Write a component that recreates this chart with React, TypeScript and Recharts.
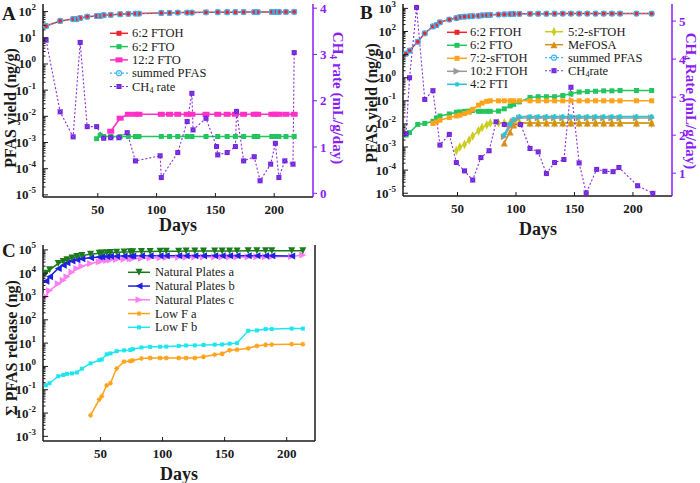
import React from "react";
import { ComposedChart, Line, XAxis, YAxis } from "recharts";

const FONT = '"Liberation Serif", "Times New Roman", Times, serif';
const INK = "#1a1a1a";
const PURPLE = "#8a1cf5";

// ---- panel A: day sampling and yields (ng/g)
const A_DAYS = [6, 18, 29, 32, 35, 41, 49, 52, 55, 61, 69, 76, 82, 85, 104, 111, 118, 126, 130, 142, 152, 160, 167, 174, 183, 186, 198, 201, 204, 210, 217];
const A_FTOH62 = [28, 44, 52, 52, 57, 64, 68, 68, 73, 75, 80, 82, 84, 84, 89, 89, 92, 92, 92, 94, 95, 95, 95, 96, 96, 96, 97, 97, 97, 97, 98];
const A_FTO62 = [null, null, null, null, null, null, 1.4e-3, 1.9e-3, 1.7e-3, 1.7e-3, 1.7e-3, 1.7e-3, 1.7e-3, 1.7e-3, 1.7e-3, 1.7e-3, 1.7e-3, 1.7e-3, 1.7e-3, 1.7e-3, 1.7e-3, 1.7e-3, 1.7e-3, 1.7e-3, 1.7e-3, 1.7e-3, 1.7e-3, 1.7e-3, 1.7e-3, 1.7e-3, 1.7e-3];
const A_FTO122 = [null, null, null, null, null, null, null, null, null, 2.7e-3, 8.5e-3, 1.2e-2, 1.2e-2, 1.2e-2, 1.2e-2, 1.2e-2, 1.2e-2, 1.2e-2, 1.2e-2, 1.2e-2, 1.2e-2, 1.2e-2, 1.2e-2, 1.2e-2, 1.2e-2, 1.2e-2, 1.2e-2, 1.2e-2, 1.2e-2, 1.2e-2, 1.2e-2];
const A_SUMMED = [28, 44, 52, 52, 57, 64, 68, 68, 73, 75, 80, 82, 84, 84, 89, 89, 92, 92, 92, 94, 95, 95, 95, 96, 96, 96, 97, 97, 97, 97, 98];
const A_CH4_DAYS = [6, 18, 29, 35, 41, 49, 55, 61, 68, 75, 82, 103, 104, 118, 126, 130, 131, 142, 151, 152, 160, 167, 168, 174, 183, 188, 197, 201, 204, 209, 216, 217];
const A_CH4 = [3.31, 1.76, 1.22, 3.26, 1.44, 1.44, 1.19, 1.2, 1.2, 1.31, 0.7, 0.81, 0.34, 0.88, 1.55, 2.16, 1.37, 1.62, 1.01, 0.83, 0.88, 1.01, 1.77, 0.7, 0.79, 0.27, 0.63, 1.08, 0.34, 0.7, 0.63, 3.04];

// ---- panel B
const B_DAYS = [6, 9, 16, 22, 29, 32, 35, 43, 49, 52, 56, 60, 63, 68, 71, 75, 78, 85, 90, 95, 98, 103, 112, 119, 126, 133, 140, 147, 154, 161, 168, 175, 182, 189, 203, 216];
const B_FTOH62 = [11, 15, 36, 83, 165, 190, 250, 330, 380, 420, 440, 455, 465, 480, 500, 515, 525, 545, 555, 565, 575, 580, 585, 590, 590, 590, 595, 595, 595, 595, 595, 595, 595, 595, 595, 595];
const B_FTO62 = [3.3e-3, 4.2e-3, 9.5e-3, 1.05e-2, 1.3e-2, 1.8e-2, 2.2e-2, 2.7e-2, 3.2e-2, 3.3e-2, 3.5e-2, 3.6e-2, 3.8e-2, 3.5e-2, 3.5e-2, 3.5e-2, 3.5e-2, 3.6e-2, 4.5e-2, 6e-2, 7e-2, 9e-2, 0.14, 0.15, 0.15, 0.15, 0.17, 0.2, 0.24, 0.25, 0.26, 0.27, 0.27, 0.28, 0.28, 0.28];
const B_STFOH72 = [null, null, null, null, 1.05e-2, 1.2e-2, 1.45e-2, 1.9e-2, 2.2e-2, 2.4e-2, 2.8e-2, 3.2e-2, 4.3e-2, 6.5e-2, 8e-2, 9.5e-2, 0.1, 0.1, 0.1, 0.1, 0.1, 0.1, 0.1, 0.1, 0.1, 0.1, 0.1, 0.1, 0.1, 0.1, 0.1, 0.1, 0.1, 0.1, 0.1, 0.1];
const B_STFOH52 = [null, null, null, null, null, null, null, null, 7e-4, 1e-3, 1.3e-3, 2e-3, 3e-3, 5e-3, 7e-3, 9e-3, 1.1e-2, 1.1e-2, 1.1e-2, 1.1e-2, 1.1e-2, 1.1e-2, 1.1e-2, 1.1e-2, 1.1e-2, 1.1e-2, 1.1e-2, 1.1e-2, 1.1e-2, 1.1e-2, 1.1e-2, 1.1e-2, 1.1e-2, 1.1e-2, 1.1e-2, 1.1e-2];
const B_FTOH102 = [null, null, null, null, null, null, null, null, null, null, null, null, null, null, null, null, null, null, 2.8e-3, 8e-3, 1.3e-2, 1.8e-2, 1.8e-2, 1.8e-2, 1.8e-2, 1.8e-2, 1.8e-2, 1.8e-2, 1.8e-2, 1.8e-2, 1.8e-2, 1.8e-2, 1.8e-2, 1.8e-2, 1.8e-2, 1.8e-2];
const B_FTI42 = [null, null, null, null, null, null, null, null, null, null, null, null, null, null, null, null, null, null, 3.5e-3, 1e-2, 1.6e-2, 2.1e-2, 2.1e-2, 2.1e-2, 2.1e-2, 2.1e-2, 2.1e-2, 2.1e-2, 2.1e-2, 2.1e-2, 2.1e-2, 2.1e-2, 2.1e-2, 2.1e-2, 2.1e-2, 2.1e-2];
const B_MEFOSA = [null, null, null, null, null, null, null, null, null, null, null, null, null, null, null, null, null, null, 1.5e-3, 4.5e-3, 9e-3, 1.1e-2, 1.1e-2, 1.1e-2, 1.1e-2, 1.1e-2, 1.1e-2, 1.1e-2, 1.1e-2, 1.1e-2, 1.1e-2, 1.1e-2, 1.1e-2, 1.1e-2, 1.1e-2, 1.1e-2];
const B_SUMMED = [11, 15, 36, 83, 165, 190, 250, 330, 380, 420, 440, 455, 465, 480, 500, 515, 525, 545, 555, 565, 575, 580, 585, 590, 590, 590, 595, 595, 595, 595, 595, 595, 595, 595, 595, 595];
const B_CH4_DAYS = [6, 9, 15, 22, 29, 35, 43, 49, 56, 63, 70, 77, 83, 90, 104, 112, 119, 126, 133, 141, 147, 154, 160, 169, 176, 183, 188, 204, 217];
const B_CH4 = [2.04, 3.51, 5.36, 2.94, 3.17, 1.74, 2.02, 1.28, 1.06, 0.82, 1.41, 1.59, 2.35, 2.28, 2.28, 1.65, 1.56, 0.99, 1.28, 1.36, 3.26, 1.27, 0.48, 1.1, 1.05, 1.04, 1.15, 0.67, 0.47];

// ---- panel C: cumulative release (ng)
const C_DAYS = [6, 9, 16, 20, 23, 27, 31, 35, 42, 49, 51, 55, 58, 63, 69, 74, 76, 83, 90, 98, 103, 113, 119, 126, 133, 142, 148, 154, 160, 169, 176, 183, 188, 204, 213];
const C_NAT_A = [1.0e4, 1.4e4, 2.6e4, 3.2e4, 3.8e4, 4.5e4, 5.2e4, 5.8e4, 6.5e4, 7.2e4, 7.4e4, 7.6e4, 7.8e4, 8.0e4, 8.2e4, 8.3e4, 8.4e4, 8.5e4, 8.6e4, 8.7e4, 8.8e4, 8.8e4, 8.9e4, 8.9e4, 8.9e4, 9.0e4, 9.0e4, 9.0e4, 9.0e4, 9.1e4, 9.1e4, 9.1e4, 9.1e4, 9.1e4, 9.2e4];
const C_NAT_B = [4.5e3, 7e3, 1.6e4, 2.2e4, 2.8e4, 3.3e4, 3.8e4, 4.2e4, 4.6e4, 5.0e4, 5.1e4, 5.2e4, 5.3e4, 5.4e4, 5.5e4, 5.5e4, 5.5e4, 5.6e4, 5.6e4, 5.6e4, 5.6e4, 5.6e4, 5.6e4, 5.6e4, 5.6e4, 5.6e4, 5.6e4, 5.6e4, 5.6e4, 5.6e4, 5.6e4, 5.6e4, 5.6e4, 5.5e4, null];
const C_NAT_C = [1.0e3, 1.8e3, 3.5e3, 5e3, 7e3, 1.1e4, 1.6e4, 2.0e4, 2.6e4, 3.1e4, 3.3e4, 3.5e4, 3.7e4, 3.9e4, 4.0e4, 4.2e4, 4.2e4, 4.4e4, 4.5e4, 4.6e4, 4.7e4, 4.8e4, 4.8e4, 4.9e4, 4.9e4, 5.0e4, 5.0e4, 5.0e4, 5.0e4, 5.0e4, 5.1e4, 5.1e4, 5.1e4, 5.2e4, 6.0e4];
const C_LOWF_A = [null, null, null, null, null, null, null, null, 8e-3, 3.8e-2, 5.2e-2, 0.155, 0.19, 0.81, 1.6, 1.7, 1.8, 2.2, 2.3, 2.3, 2.3, 2.3, 2.3, 2.3, 2.6, 3.2, 3.5, 5.0, 5.2, 6.0, 7.6, 8.5, 8.7, 9, 9];
const C_LOWF_B = [0.155, 0.19, 0.38, 0.43, 0.48, 0.5, 0.55, 0.8, 1.35, 1.85, 2.0, 3.3, 3.6, 4.5, 4.9, 5.1, 5.5, 6.5, 6.9, 7.0, 7.1, 7.6, 7.9, 8.0, 8.3, 8.6, 8.8, 9.5, 10, 34, 35, 40, 40, 42, 42];

// axis tick labels
const DAY_TICKS = [50, 100, 150, 200];
const A_DECADES = [-5, -4, -3, -2, -1, 0, 1, 2];
const B_DECADES = [-5, -4, -3, -2, -1, 0, 1, 2, 3];
const C_DECADES = [-3, -2, -1, 0, 1, 2, 3, 4, 5];
const A_RATE_TICKS = [0, 1, 2, 3, 4];
const B_RATE_TICKS = [1, 2, 3, 4, 5];

const pts = (xs: number[], ys: (number | null)[]) =>
  xs.map((d, i) => ({ d, v: ys[i] })).filter((p) => p.v != null);

const logTicks = (decades: number[], lo: number, hi: number) => {
  const out: number[] = [];
  decades.forEach((k) => {
    for (let m = 1; m <= 9; m++) {
      const v = Number((m * Math.pow(10, k)).toPrecision(6));
      if (v >= lo && v <= hi) out.push(v);
    }
  });
  return out;
};

type Shape = "square" | "wide" | "ring" | "xsq" | "triR" | "triL" | "triD" | "triU" | "diamond" | "star";

function Marker({ cx, cy, shape, color, s }: { cx: number; cy: number; shape: Shape; color: string; s: number }) {
  const h = s / 2;
  switch (shape) {
    case "square":
      return <rect x={cx - h} y={cy - h} width={s} height={s} fill={color} />;
    case "wide":
      return <rect x={cx - h * 1.4} y={cy - h} width={s * 1.4} height={s} fill={color} />;
    case "ring":
      return <circle cx={cx} cy={cy} r={h} fill="none" stroke={color} strokeWidth={1.2} />;
    case "xsq":
      return (
        <g>
          <rect x={cx - h} y={cy - h} width={s} height={s} fill={color} />
          <path d={`M${cx - h},${cy - h}L${cx + h},${cy + h}M${cx + h},${cy - h}L${cx - h},${cy + h}`} stroke="#9d5cf2" strokeWidth={0.6} />
        </g>
      );
    case "triR":
      return <polygon points={`${cx - h},${cy - h} ${cx + h},${cy} ${cx - h},${cy + h}`} fill={color} />;
    case "triL":
      return <polygon points={`${cx + h},${cy - h} ${cx - h},${cy} ${cx + h},${cy + h}`} fill={color} />;
    case "triD":
      return <polygon points={`${cx - h},${cy - h} ${cx + h},${cy - h} ${cx},${cy + h}`} fill={color} />;
    case "triU":
      return <polygon points={`${cx - h},${cy + h} ${cx + h},${cy + h} ${cx},${cy - h}`} fill={color} />;
    case "diamond":
      return <polygon points={`${cx},${cy - s * 0.8} ${cx + h * 0.8},${cy} ${cx},${cy + s * 0.8} ${cx - h * 0.8},${cy}`} fill={color} />;
    case "star":
    default:
      return (
        <g stroke={color} strokeWidth={1.1}>
          <path d={`M${cx - h},${cy}L${cx + h},${cy}M${cx},${cy - h}L${cx},${cy + h}M${cx - h * 0.7},${cy - h * 0.7}L${cx + h * 0.7},${cy + h * 0.7}M${cx + h * 0.7},${cy - h * 0.7}L${cx - h * 0.7},${cy + h * 0.7}`} />
        </g>
      );
  }
}

interface Series {
  name: string;
  days: number[];
  vals: (number | null)[];
  color: string;
  marker?: string;
  shape: Shape;
  size: number;
  axis: string;
  dash?: string;
  width?: number;
}

const A_SERIES: Series[] = [
  { name: "6:2 FTO", days: A_DAYS, vals: A_FTO62, color: "#22c55e", shape: "square", size: 5, axis: "l" },
  { name: "12:2 FTO", days: A_DAYS, vals: A_FTO122, color: "#ff2fc8", shape: "wide", size: 5, axis: "l" },
  { name: "6:2 FTOH", days: A_DAYS, vals: A_FTOH62, color: "#f0242b", shape: "square", size: 5, axis: "l" },
  { name: "summed PFAS", days: A_DAYS, vals: A_SUMMED, color: "#3fb4f2", shape: "ring", size: 5, axis: "l", dash: "2 2", width: 1.2 },
  { name: "CH4 rate", days: A_CH4_DAYS, vals: A_CH4, color: "#8b2be2", marker: "#6a1cd6", shape: "xsq", size: 5, axis: "r", dash: "2 2", width: 1.1 },
];

const B_SERIES: Series[] = [
  { name: "6:2 FTO", days: B_DAYS, vals: B_FTO62, color: "#22c55e", shape: "square", size: 5, axis: "l" },
  { name: "7:2-sFTOH", days: B_DAYS, vals: B_STFOH72, color: "#ffa31a", shape: "square", size: 5, axis: "l" },
  { name: "5:2-sFTOH", days: B_DAYS, vals: B_STFOH52, color: "#cccc1f", shape: "diamond", size: 6, axis: "l" },
  { name: "MeFOSA", days: B_DAYS, vals: B_MEFOSA, color: "#d68f1c", shape: "triU", size: 7, axis: "l" },
  { name: "10:2 FTOH", days: B_DAYS, vals: B_FTOH102, color: "#9a9a9a", shape: "triR", size: 7, axis: "l" },
  { name: "4:2 FTI", days: B_DAYS, vals: B_FTI42, color: "#1fc8d6", shape: "star", size: 5, axis: "l" },
  { name: "6:2 FTOH", days: B_DAYS, vals: B_FTOH62, color: "#f0242b", shape: "square", size: 5, axis: "l" },
  { name: "summed PFAS", days: B_DAYS, vals: B_SUMMED, color: "#3fb4f2", shape: "ring", size: 5, axis: "l", dash: "2 2", width: 1.2 },
  { name: "CH4rate", days: B_CH4_DAYS, vals: B_CH4, color: "#8b2be2", marker: "#6a1cd6", shape: "xsq", size: 5, axis: "r", dash: "2 2", width: 1.1 },
];

const C_SERIES: Series[] = [
  { name: "Low F a", days: C_DAYS, vals: C_LOWF_A, color: "#ffa31a", shape: "star", size: 5, axis: "l" },
  { name: "Low F b", days: C_DAYS, vals: C_LOWF_B, color: "#1ee6f0", shape: "square", size: 4, axis: "l" },
  { name: "Natural Plates c", days: C_DAYS, vals: C_NAT_C, color: "#ff7df5", shape: "triR", size: 7, axis: "l" },
  { name: "Natural Plates b", days: C_DAYS, vals: C_NAT_B, color: "#1f1fe6", shape: "triL", size: 7, axis: "l" },
  { name: "Natural Plates a", days: C_DAYS, vals: C_NAT_A, color: "#1b7a1b", shape: "triD", size: 7, axis: "l" },
];

const Y_GAP = 7;
const X_GAP = 0;

const LogTick = (props: any) => {
  const { x, y, payload } = props;
  const v = Number(payload.value);
  const e = Math.log10(v);
  const k = Math.round(e);
  const major = Math.abs(e - k) < 1e-6;
  const ax = x + Y_GAP;
  return (
    <g>
      <line x1={ax} y1={y} x2={ax + (major ? 5 : 2.5)} y2={y} stroke={INK} strokeWidth={1} />
      {major && (
        <text x={x} y={y + 4.5} textAnchor="end" fontFamily={FONT} fontWeight="bold" fontSize={13} fill={INK}>
          10
          <tspan dy={-6} fontSize={9}>
            {k}
          </tspan>
        </text>
      )}
    </g>
  );
};

const DayTick = (props: any) => {
  const { x, y, payload } = props;
  const ay = y - X_GAP;
  return (
    <g>
      <line x1={x} y1={ay} x2={x} y2={ay - 4} stroke={INK} strokeWidth={1} />
      <text x={x} y={ay + 17} textAnchor="middle" fontFamily={FONT} fontWeight="bold" fontSize={13} fill={INK}>
        {payload.value}
      </text>
    </g>
  );
};

const dotFn = (s: Series) => (p: any) => {
  const key = `${s.name}-${p.index}`;
  if (p.cx == null || p.cy == null || isNaN(p.cy)) return <g key={key} />;
  return <Marker key={key} cx={p.cx} cy={p.cy} shape={s.shape} color={s.marker ?? s.color} s={s.size} />;
};

const renderLines = (list: Series[]) =>
  list.map((s) => (
    <Line
      key={s.name}
      data={pts(s.days, s.vals)}
      dataKey="v"
      yAxisId={s.axis}
      type="linear"
      stroke={s.color}
      strokeWidth={s.width ?? 1.5}
      strokeDasharray={s.dash}
      dot={dotFn(s)}
      activeDot={false}
      isAnimationActive={false}
    />
  ));

interface PanelProps {
  width: number;
  height: number;
  top: number;
  leftW: number;
  rightW: number;
  xH: number;
  xDomain: [number, number];
  yDomain: [number, number];
  decades: number[];
  rateDomain?: [number, number];
  rateTicks?: number[];
  series: Series[];
}

function Panel(p: PanelProps) {
  const ticks = logTicks(p.decades, p.yDomain[0], p.yDomain[1]);
  return (
    <ComposedChart width={p.width} height={p.height} margin={{ top: p.top, right: 0, bottom: 0, left: 0 }}>
      <XAxis
        dataKey="d"
        type="number"
        domain={p.xDomain}
        allowDataOverflow
        ticks={DAY_TICKS}
        interval={0}
        tick={<DayTick />}
        tickLine={false}
        tickSize={0}
        tickMargin={X_GAP}
        height={p.xH}
        axisLine={{ stroke: INK, strokeWidth: 1.5 }}
      />
      <XAxis
        xAxisId="top"
        orientation="top"
        type="number"
        domain={p.xDomain}
        tick={false}
        tickLine={false}
        height={0}
        axisLine={{ stroke: INK, strokeWidth: 1.5 }}
      />
      <YAxis
        yAxisId="l"
        scale="log"
        type="number"
        domain={p.yDomain}
        allowDataOverflow
        ticks={ticks}
        interval={0}
        tick={<LogTick />}
        tickLine={false}
        tickSize={0}
        tickMargin={Y_GAP}
        width={p.leftW}
        axisLine={{ stroke: INK, strokeWidth: 1.5 }}
      />
      {p.rateDomain ? (
        <YAxis
          yAxisId="r"
          orientation="right"
          type="number"
          domain={p.rateDomain}
          allowDataOverflow
          ticks={p.rateTicks}
          interval={0}
          width={p.rightW}
          stroke={PURPLE}
          tickSize={4}
          tickMargin={3}
          tick={{ fill: PURPLE, fontSize: 13, fontWeight: "bold", fontFamily: FONT }}
          axisLine={{ stroke: PURPLE, strokeWidth: 1.5 }}
        />
      ) : (
        <YAxis
          yAxisId="r"
          orientation="right"
          type="number"
          domain={[0, 1]}
          width={p.rightW}
          tick={false}
          tickLine={false}
          axisLine={{ stroke: INK, strokeWidth: 1.5 }}
        />
      )}
      {renderLines(p.series)}
    </ComposedChart>
  );
}

const Sub = ({ label, shift }: { label: string; shift: number }) => {
  const i = label.indexOf("CH4");
  if (i < 0) return <>{label}</>;
  return (
    <>
      {label.slice(0, i)}CH
      <tspan fontSize="0.65em" dy={shift}>4</tspan>
      <tspan dy={-shift}>{label.slice(i + 3)}</tspan>
    </>
  );
};

function LegendRows({ items, x, y0, dy, len, gap, fs }: { items: Series[]; x: number; y0: number; dy: number; len: number; gap: number; fs: number }) {
  return (
    <g>
      {items.map((s, i) => {
        const y = y0 + i * dy;
        return (
          <g key={s.name}>
            <line x1={x} y1={y} x2={x + len} y2={y} stroke={s.color} strokeWidth={s.width ?? 1.5} strokeDasharray={s.dash} />
            <Marker cx={x + len / 2} cy={y} shape={s.shape} color={s.marker ?? s.color} s={s.size} />
            <text x={x + len + gap} y={y} dominantBaseline="central" fontFamily={FONT} fontSize={fs} fill={INK}>
              <Sub label={s.name} shift={3} />
            </text>
          </g>
        );
      })}
    </g>
  );
}

const pick = (list: Series[], names: string[]) => names.map((n) => list.find((s) => s.name === n) as Series);

export default function App() {
  const title = { fontFamily: FONT, fontWeight: "bold" as const, fill: INK };
  return (
    <div style={{ position: "absolute", left: 0, top: 0, width: 700, height: 483, background: "#fff", overflow: "hidden" }}>
      <div style={{ position: "absolute", left: 0, top: 0 }}>
        <Panel width={350} height={240} top={4} leftW={43} rightW={37} xH={43} xDomain={[3.4, 233]} yDomain={[Math.pow(10, -5.08), Math.pow(10, 2.29)]} decades={A_DECADES} rateDomain={[-0.08, 4.09]} rateTicks={A_RATE_TICKS} series={A_SERIES} />
      </div>
      <div style={{ position: "absolute", left: 350, top: 0 }}>
        <Panel width={350} height={240} top={4} leftW={53} rightW={28} xH={44} xDomain={[3.4, 233.4]} yDomain={[Math.pow(10, -5.12), Math.pow(10, 3.19)]} decades={B_DECADES} rateDomain={[0.4, 5.45]} rateTicks={B_RATE_TICKS} series={B_SERIES} />
      </div>
      <div style={{ position: "absolute", left: 0, top: 240 }}>
        <Panel width={350} height={243} top={5} leftW={43} rightW={35} xH={42} xDomain={[3.7, 222.8]} yDomain={[Math.pow(10, -3.2), Math.pow(10, 5.21)]} decades={C_DECADES} series={C_SERIES} />
      </div>
      <svg width={700} height={483} style={{ position: "absolute", left: 0, top: 0, pointerEvents: "none" }}>
        <text x={2} y={20} fontSize={19} {...title}>A</text>
        <text x={360} y={19} fontSize={19} {...title}>B</text>
        <text x={2} y={257} fontSize={19} {...title}>C</text>

        <text transform="translate(10,108) rotate(-90)" textAnchor="middle" dominantBaseline="central" fontSize={16} {...title}>PFAS yield (ng/g)</text>
        <text transform="translate(371,103) rotate(-90)" textAnchor="middle" dominantBaseline="central" fontSize={16} {...title}>PFAS yield (ng/g)</text>
        <text transform="translate(11,348) rotate(-90)" textAnchor="middle" dominantBaseline="central" fontSize={16} {...title}>Σ PFAS release (ng)</text>
        <text transform="translate(338,98) rotate(90)" textAnchor="middle" dominantBaseline="central" fontSize={15} fontFamily={FONT} fontWeight="bold" fill={PURPLE}>
          <Sub label="CH4 rate (mL/g/day)" shift={4} />
        </text>
        <text transform="translate(691,101) rotate(90)" textAnchor="middle" dominantBaseline="central" fontSize={15} fontFamily={FONT} fontWeight="bold" fill={PURPLE}>
          <Sub label="CH4 Rate (mL/g/day)" shift={4} />
        </text>

        <text x={178} y={225} textAnchor="middle" dominantBaseline="central" fontSize={18} {...title}>Days</text>
        <text x={538} y={229} textAnchor="middle" dominantBaseline="central" fontSize={18} {...title}>Days</text>
        <text x={179} y={474} textAnchor="middle" dominantBaseline="central" fontSize={18} {...title}>Days</text>

        <LegendRows items={pick(A_SERIES, ["6:2 FTOH", "6:2 FTO", "12:2 FTO", "summed PFAS", "CH4 rate"])} x={110} y0={33.3} dy={13.3} len={18} gap={4} fs={12.5} />
        <LegendRows items={pick(B_SERIES, ["6:2 FTOH", "6:2 FTO", "7:2-sFTOH", "10:2 FTOH", "4:2 FTI"])} x={447} y0={32.3} dy={13} len={20} gap={3} fs={12.5} />
        <LegendRows items={pick(B_SERIES, ["5:2-sFTOH", "MeFOSA", "summed PFAS", "CH4rate"])} x={545} y0={31.7} dy={13} len={18} gap={5} fs={12.5} />
        <LegendRows items={pick(C_SERIES, ["Natural Plates a", "Natural Plates b", "Natural Plates c", "Low F a", "Low F b"])} x={128} y0={272.3} dy={13.75} len={22} gap={5} fs={12.5} />
      </svg>
    </div>
  );
}
